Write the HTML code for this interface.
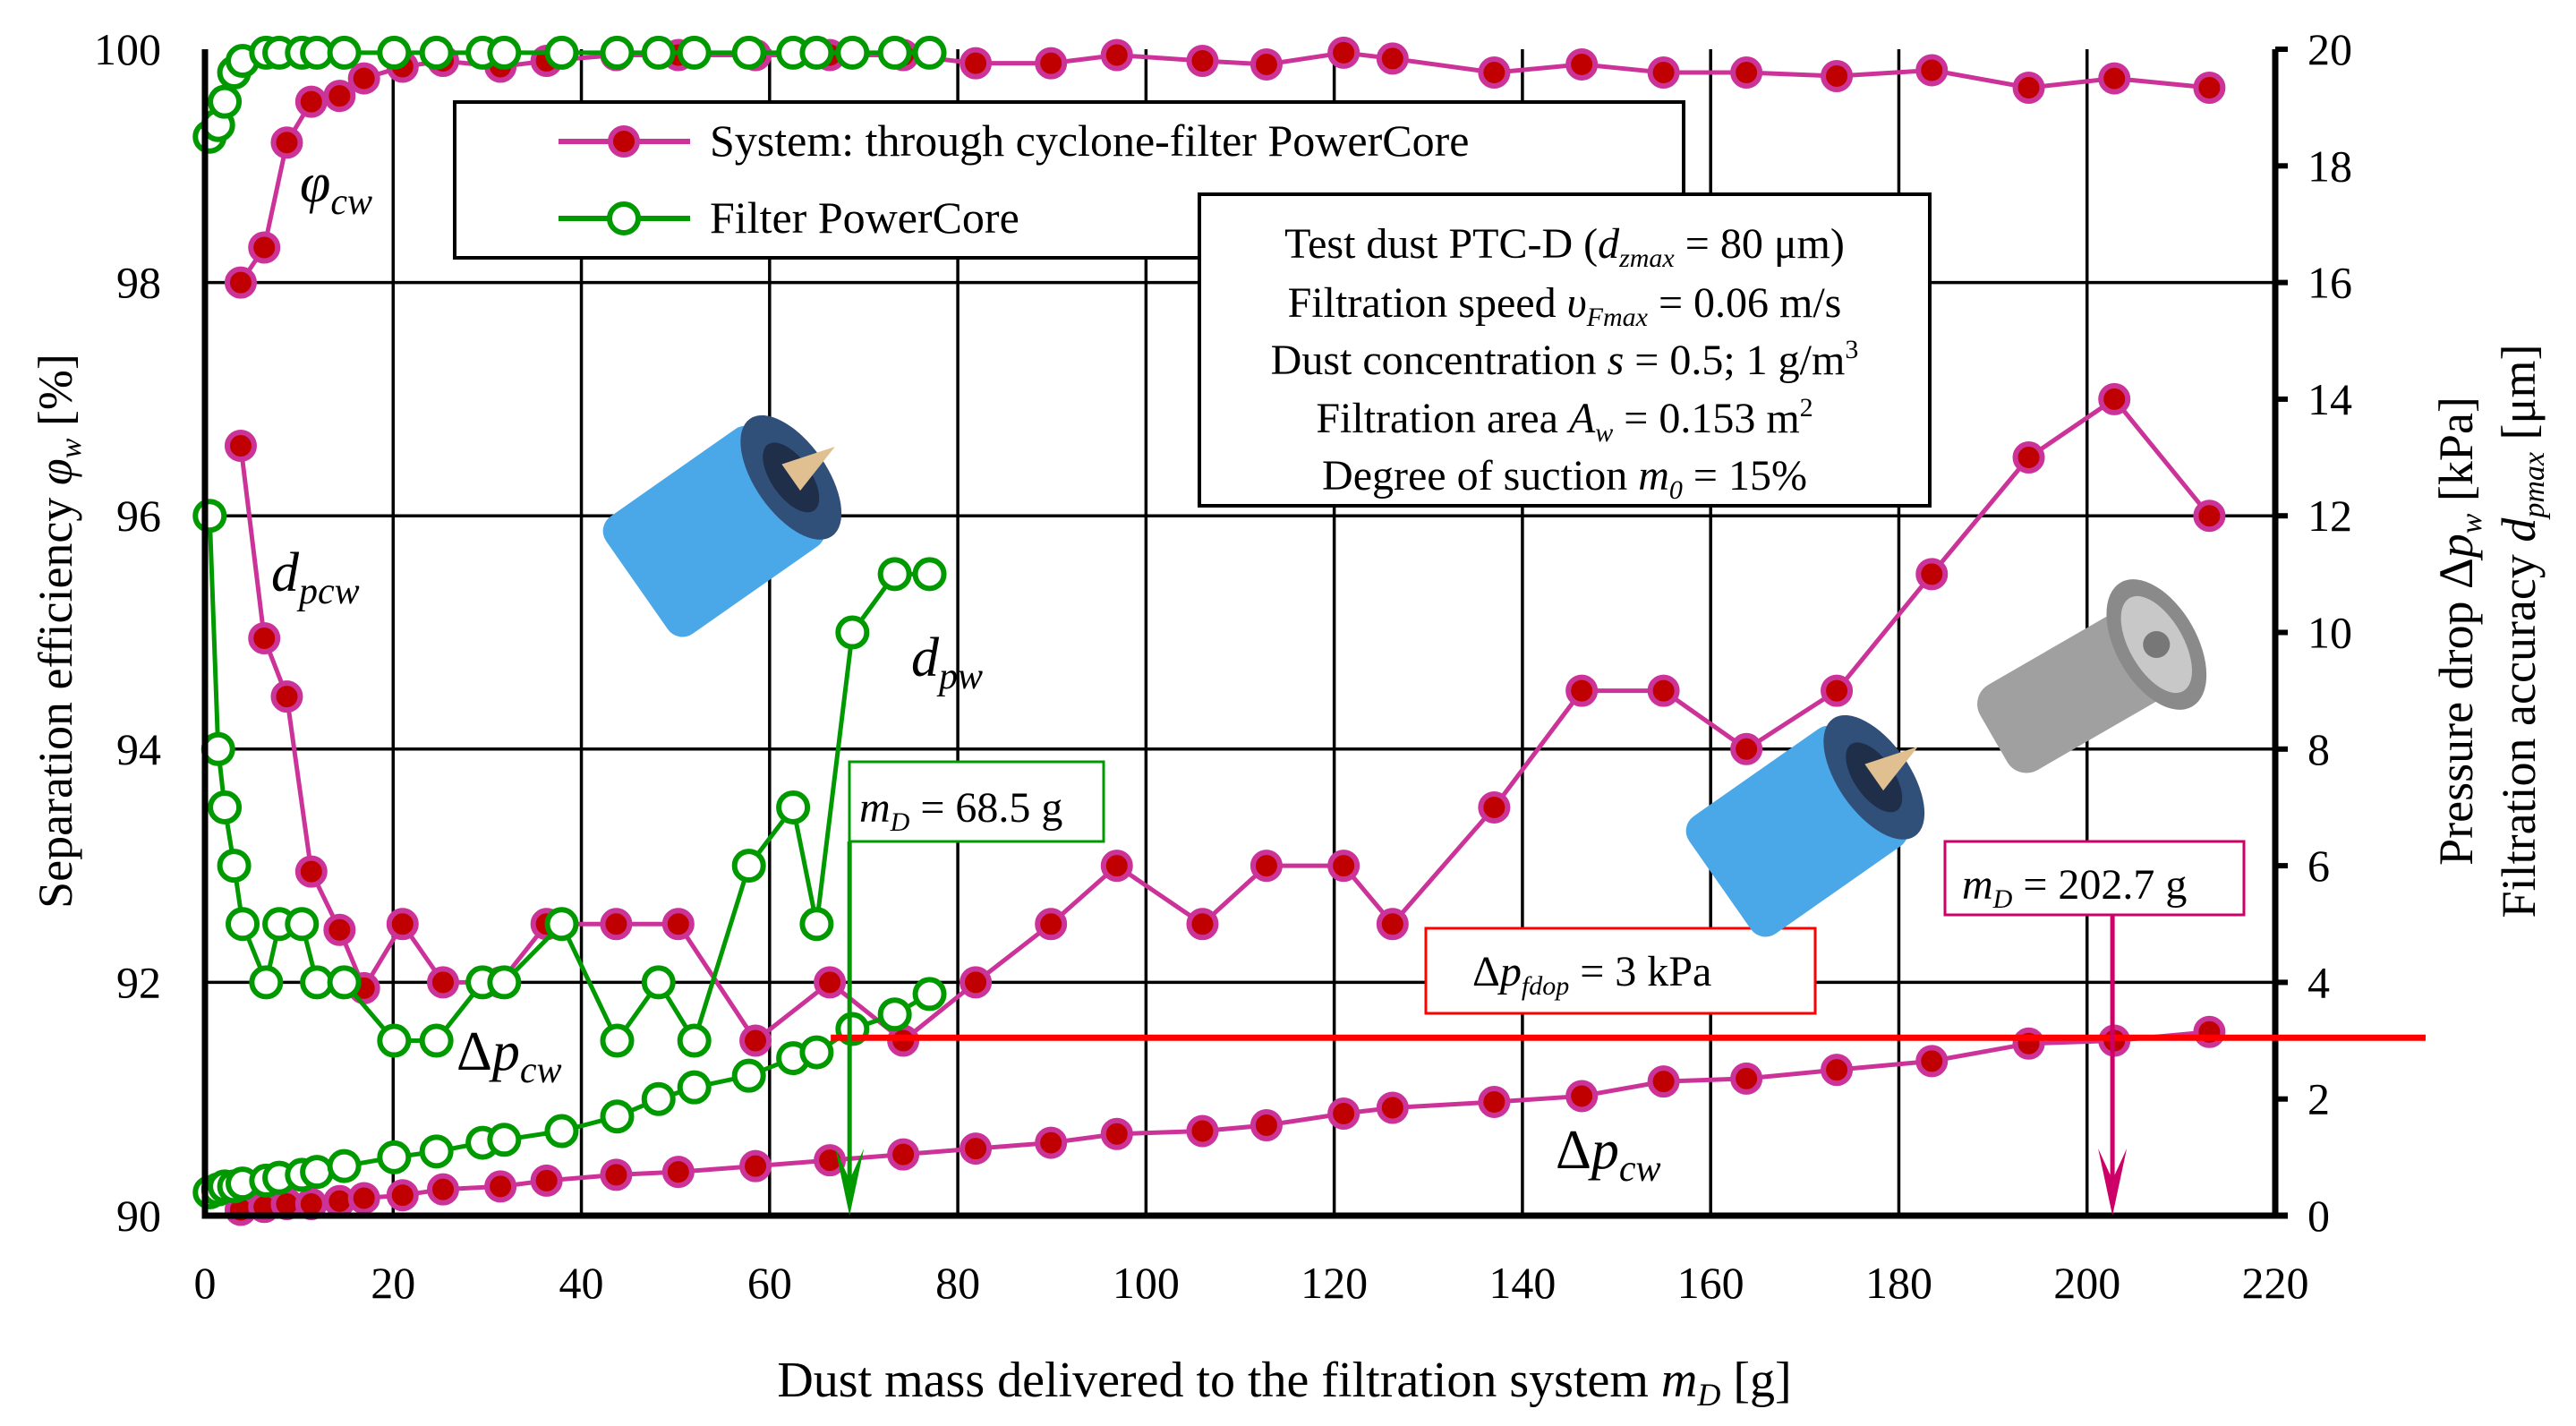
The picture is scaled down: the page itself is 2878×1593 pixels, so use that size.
<!DOCTYPE html>
<html><head><meta charset="utf-8"><style>
html,body{margin:0;padding:0;background:#fff;}
svg{display:block;font-family:"Liberation Serif",serif;}
</style></head><body>
<svg id="chart" width="2878" height="1593" viewBox="0 0 2878 1593" xmlns="http://www.w3.org/2000/svg">
<g id="grid"></g>
<g id="series"></g>
<g id="axes"></g>
<g id="annot"></g>
</svg>
<script>
// X-axis categories (dust mass, g)
const sysMass = [3.8,6.3,8.7,11.3,14.3,16.9,21,25.3,31.4,36.3,43.7,50.3,58.5,66.4,74.2,81.9,89.9,96.9,106,112.8,121,126.2,137,146.3,155,163.8,173.4,183.5,193.8,202.9,213];
const sysEff = [98.0,98.3,99.2,99.55,99.6,99.75,99.85,99.9,99.85,99.9,99.95,99.95,99.95,99.95,99.95,99.88,99.88,99.95,99.9,99.87,99.97,99.92,99.8,99.87,99.8,99.8,99.77,99.82,99.67,99.75,99.67];
const sysAcc = [13.2,9.9,8.9,5.9,4.9,3.9,5,4,4,5,5,5,3,4,3,4,5,6,5,6,6,5,7,9,9,8,9,11,13,14,12];
const sysDp = [0.1,0.15,0.2,0.2,0.25,0.3,0.35,0.45,0.5,0.6,0.7,0.75,0.85,0.95,1.05,1.15,1.25,1.4,1.45,1.55,1.75,1.85,1.95,2.05,2.3,2.35,2.5,2.65,2.95,3.0,3.15];
const filMass = [0.5,1.4,2.1,3.1,4.0,6.5,7.9,10.3,11.9,14.8,20.1,24.6,29.5,31.8,37.9,43.8,48.2,52,57.8,62.5,65,68.8,73.3,77];
const filEff = [99.25,99.35,99.55,99.8,99.9,99.97,99.97,99.97,99.97,99.97,99.97,99.97,99.97,99.97,99.97,99.97,99.97,99.97,99.97,99.97,99.97,99.97,99.97,99.97];
const filAcc = [12,8,7,6,5,4,5,5,4,4,3,3,4,4,5,3,4,3,6,7,5,10,11,11];
const filDp = [0.4,0.45,0.5,0.5,0.55,0.6,0.65,0.7,0.75,0.85,1.0,1.1,1.25,1.3,1.45,1.7,2.0,2.2,2.4,2.7,2.8,3.2,3.45,3.8];
const xTicks = [0,20,40,60,80,100,120,140,160,180,200,220];
const leftTicks = [90,92,94,96,98,100];
const rightTicks = [0,2,4,6,8,10,12,14,16,18,20];
const dpLimit = 3.05;
const mdFilter = 68.5;
const mdSystem = 202.7;

const NS="http://www.w3.org/2000/svg";
const L=229,R=2542,T=55,B=1358;
const X=g=>L+g*(R-L)/220;
const YL=v=>B-(v-90)*(B-T)/10;
const YR=v=>B-v*(B-T)/20;
function mk(tag,attrs,parent,text){const e=document.createElementNS(NS,tag);for(const k in attrs)e.setAttribute(k,attrs[k]);if(text!==undefined)e.textContent=text;parent.appendChild(e);return e;}
const grid=document.getElementById('grid'),ser=document.getElementById('series'),axes=document.getElementById('axes'),ann=document.getElementById('annot');

xTicks.forEach(t=>{if(t>0&&t<220){const l=mk('line',{x1:X(t),x2:X(t),y1:T,y2:B,stroke:'#000','stroke-width':3.5},grid);

}
const tx=mk('text',{x:X(t),y:1450,'font-size':50,'text-anchor':'middle'},axes,String(t));

});
leftTicks.forEach(t=>{if(t>90&&t<100){const l=mk('line',{x1:L,x2:R,y1:YL(t),y2:YL(t),stroke:'#000','stroke-width':3.5},grid);

}
const tx=mk('text',{x:180,y:YL(t)+17,'font-size':50,'text-anchor':'end'},axes,String(t));

});
rightTicks.forEach(t=>{const tk=mk('line',{x1:R,x2:R+14,y1:YR(t),y2:YR(t),stroke:'#000','stroke-width':6},axes);


const tx=mk('text',{x:2578,y:YR(t)+17,'font-size':50,'text-anchor':'start'},axes,String(t));

});
const frame=mk('path',{d:`M${L},${T} V${B} H${R+14} M${R},${T} V${B}`,stroke:'#000','stroke-width':7,fill:'none'},axes);



function series(xs,ys,yf,color,filled,name){
  const g=mk('g',{},ser);
  
  
  mk('polyline',{points:xs.map((x,i)=>X(x)+','+yf(ys[i])).join(' '),fill:'none',stroke:color,'stroke-width':5},g);
  xs.forEach((x,i)=>{const c=mk('circle',{cx:X(x),cy:yf(ys[i]),r:filled?15:16,fill:filled?'#c00000':'#fff',stroke:color,'stroke-width':filled?6:6},g);
  
  });
}
const MAG='#cc3399',GRN='#009900';
series(sysMass,sysDp,YR,MAG,true,'system-pressure-drop');
series(sysMass,sysAcc,YR,MAG,true,'system-accuracy');
series(sysMass,sysEff,YL,MAG,true,'system-efficiency');
series(filMass,filDp,YR,GRN,false,'filter-pressure-drop');
series(filMass,filAcc,YR,GRN,false,'filter-accuracy');
series(filMass,filEff,YL,GRN,false,'filter-efficiency');

// limit line and arrows
const rl=mk('line',{x1:X(66.5),x2:2710,y1:YR(dpLimit),y2:YR(dpLimit),stroke:'#ff0000','stroke-width':7},ann);


function arrow(g,y0,color,name){const a=mk('g',{},ann);


mk('line',{x1:X(g),x2:X(g),y1:y0,y2:B-40,stroke:color,'stroke-width':5},a);
mk('path',{d:`M${X(g)-16},${B-75} L${X(g)},${B} L${X(g)+16},${B-75} L${X(g)},${B-40}Z`,fill:color},a);}
arrow(mdFilter,940,GRN,'filter-md-arrow');
arrow(mdSystem,1022,'#cc0066','system-md-arrow');
</script>
<svg width="2878" height="1593" viewBox="0 0 2878 1593" style="position:absolute;left:0;top:0;font-family:'Liberation Serif',serif">
<!-- legend -->
<g>
<rect x="508" y="114" width="1373" height="174" fill="#fff" stroke="#000" stroke-width="4"/>
<g>
<line x1="624" x2="771" y1="158" y2="158" stroke="#cc3399" stroke-width="6"/><circle cx="697" cy="158" r="15" fill="#c00000" stroke="#cc3399" stroke-width="6"/>
<text x="793" y="174" font-size="50">System: through cyclone-filter PowerCore</text></g>
<g>
<line x1="624" x2="771" y1="244" y2="244" stroke="#009900" stroke-width="6"/><circle cx="697" cy="244" r="16" fill="#fff" stroke="#009900" stroke-width="6"/>
<text x="793" y="260" font-size="50">Filter PowerCore</text></g>
</g>
<!-- info box -->
<g font-size="48" text-anchor="middle">
<rect x="1340" y="217" width="816" height="348" fill="#fff" stroke="#000" stroke-width="4"/>
<text x="1748" y="288">Test dust PTC-D (<tspan font-style="italic">d</tspan><tspan font-style="italic" font-size="30" dy="10">zmax</tspan><tspan dy="-10"> = 80 μm)</tspan></text>
<text x="1748" y="354">Filtration speed <tspan font-style="italic">υ</tspan><tspan font-style="italic" font-size="30" dy="10">Fmax</tspan><tspan dy="-10"> = 0.06 m/s</tspan></text>
<text x="1748" y="418">Dust concentration <tspan font-style="italic">s</tspan> = 0.5; 1 g/m<tspan font-size="30" dy="-18">3</tspan></text>
<text x="1748" y="483">Filtration area <tspan font-style="italic">A</tspan><tspan font-style="italic" font-size="30" dy="10">w</tspan><tspan dy="-10"> = 0.153 m</tspan><tspan font-size="30" dy="-18">2</tspan></text>
<text x="1748" y="547">Degree of suction <tspan font-style="italic">m</tspan><tspan font-style="italic" font-size="30" dy="10">0</tspan><tspan dy="-10"> = 15%</tspan></text>
</g>
<!-- md boxes -->
<g>
<rect x="949" y="851" width="284" height="89" fill="#fff" stroke="#009900" stroke-width="3"/>
<text x="960" y="918" font-size="48"><tspan font-style="italic">m</tspan><tspan font-style="italic" font-size="30" dy="10">D</tspan><tspan dy="-10"> = 68.5 g</tspan></text></g>
<g>
<rect x="2173" y="940" width="334" height="82" fill="#fff" stroke="#cc0066" stroke-width="3"/>
<text x="2192" y="1004" font-size="48"><tspan font-style="italic">m</tspan><tspan font-style="italic" font-size="30" dy="10">D</tspan><tspan dy="-10"> = 202.7 g</tspan></text></g>
<g>
<rect x="1593" y="1037" width="435" height="95" fill="#fff" stroke="#ff0000" stroke-width="3"/>
<text x="1645" y="1101" font-size="48">Δ<tspan font-style="italic">p</tspan><tspan font-style="italic" font-size="30" dy="10">fdop</tspan><tspan dy="-10"> = 3 kPa</tspan></text></g>
<!-- curve labels -->
<g font-style="italic" font-size="62">
<text x="335" y="225">φ<tspan font-size="42" dy="14">cw</tspan></text>
<text x="303" y="660">d<tspan font-size="42" dy="14">pcw</tspan></text>
<text x="1018" y="755">d<tspan font-size="42" dy="14">pw</tspan></text>
<text x="510" y="1195"><tspan font-style="normal">Δ</tspan>p<tspan font-size="42" dy="14">cw</tspan></text>
<text x="1738" y="1305"><tspan font-style="normal">Δ</tspan>p<tspan font-size="42" dy="14">cw</tspan></text>
</g>
<!-- filter pictures -->
<g transform="translate(810,585) rotate(-35)">
<rect x="-120" y="-80" width="210" height="160" rx="20" fill="#4aa8e8"/>
<ellipse cx="90" cy="0" rx="40" ry="80" fill="#30507a"/><ellipse cx="90" cy="0" rx="22" ry="45" fill="#1f2f4a"/>
<path d="M90,-18 L150,0 L90,18Z" fill="#e0c090"/></g>
<g transform="translate(2020,920) rotate(-35)">
<rect x="-120" y="-80" width="210" height="160" rx="20" fill="#4aa8e8"/>
<ellipse cx="90" cy="0" rx="40" ry="80" fill="#30507a"/><ellipse cx="90" cy="0" rx="22" ry="45" fill="#1f2f4a"/>
<path d="M90,-18 L150,0 L90,18Z" fill="#e0c090"/></g>
<g transform="translate(2340,760) rotate(-30)">
<rect x="-130" y="-55" width="200" height="110" rx="25" fill="#a0a0a0"/>
<ellipse cx="80" cy="0" rx="45" ry="80" fill="#8a8a8a"/><ellipse cx="80" cy="0" rx="30" ry="60" fill="#c8c8c8"/><circle cx="80" cy="0" r="15" fill="#777"/></g>
<!-- axis titles -->
<text x="1435" y="1560" font-size="56" text-anchor="middle">Dust mass delivered to the filtration system <tspan font-style="italic">m</tspan><tspan font-style="italic" font-size="36" dy="10">D</tspan><tspan dy="-10"> [g]</tspan></text>
<text transform="translate(80,705) rotate(-90)" font-size="54" text-anchor="middle">Separation efficiency <tspan font-style="italic">φ</tspan><tspan font-style="italic" font-size="34" dy="10">w</tspan><tspan dy="-10"> [%]</tspan></text>
<text transform="translate(2762,705) rotate(-90)" font-size="54" text-anchor="middle">Pressure drop Δ<tspan font-style="italic">p</tspan><tspan font-style="italic" font-size="34" dy="10">w</tspan><tspan dy="-10"> [kPa]</tspan></text>
<text transform="translate(2832,705) rotate(-90)" font-size="54" text-anchor="middle">Filtration accuracy <tspan font-style="italic">d</tspan><tspan font-style="italic" font-size="34" dy="10">pmax</tspan><tspan dy="-10"> [μm]</tspan></text>
</svg>
</body></html>
